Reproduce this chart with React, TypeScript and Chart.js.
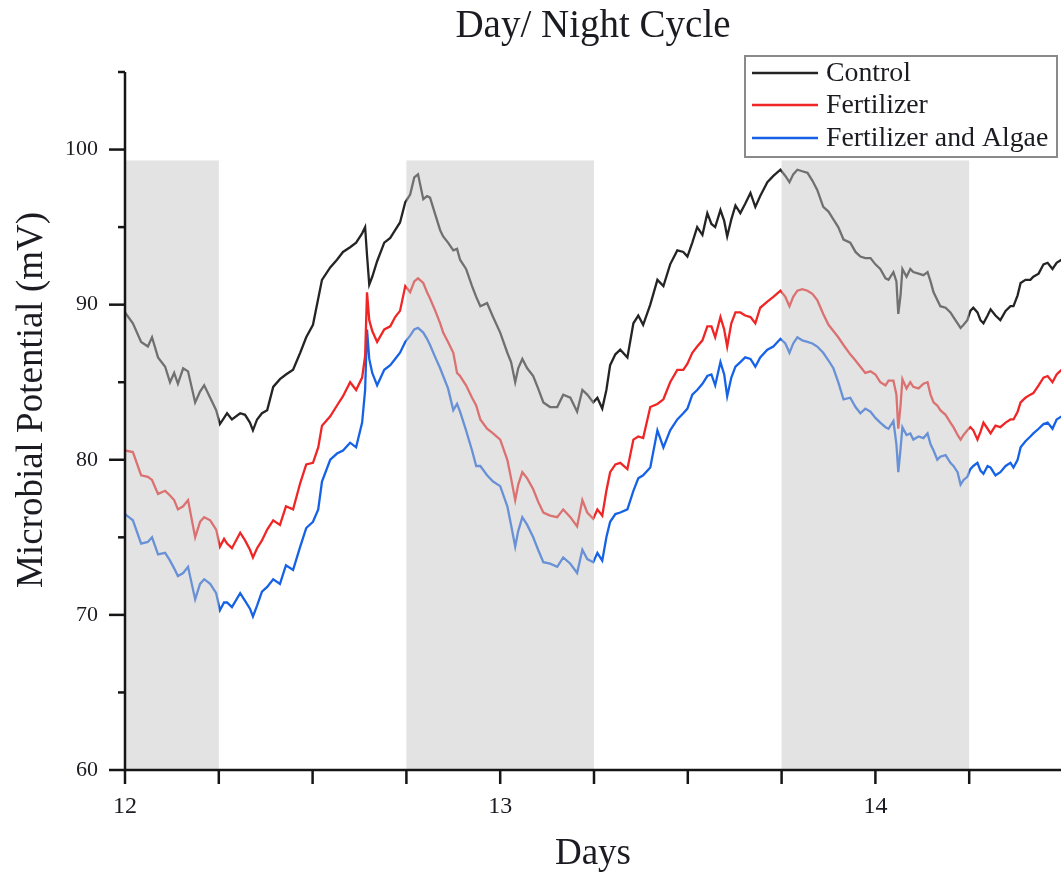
import React, { useEffect, useRef } from "react";
import { Chart, registerables } from "chart.js";

Chart.register(...registerables);

// ---- data ----
const days = [
  12.000, 12.021, 12.043, 12.061, 12.072, 12.088, 12.107, 12.120, 12.131, 12.141,
  12.155, 12.168, 12.187, 12.200, 12.211, 12.227, 12.243, 12.253, 12.264, 12.272,
  12.285, 12.307, 12.320, 12.333, 12.341, 12.352, 12.365, 12.379, 12.395, 12.413,
  12.429, 12.448, 12.467, 12.483, 12.501, 12.515, 12.525, 12.547, 12.565, 12.581,
  12.600, 12.616, 12.632, 12.640, 12.645, 12.651, 12.659, 12.672, 12.691, 12.707,
  12.720, 12.733, 12.747, 12.760, 12.771, 12.781, 12.795, 12.805, 12.813, 12.827,
  12.840, 12.848, 12.861, 12.875, 12.885, 12.893, 12.909, 12.925, 12.936, 12.947,
  12.965, 12.981, 13.000, 13.019, 13.029, 13.040, 13.048, 13.059, 13.072, 13.088,
  13.101, 13.115, 13.133, 13.152, 13.168, 13.187, 13.205, 13.219, 13.232, 13.248,
  13.259, 13.272, 13.283, 13.293, 13.307, 13.320, 13.339, 13.355, 13.368, 13.381,
  13.400, 13.419, 13.435, 13.453, 13.472, 13.488, 13.499, 13.512, 13.525, 13.539,
  13.552, 13.563, 13.573, 13.587, 13.597, 13.605, 13.616, 13.627, 13.640, 13.653,
  13.667, 13.680, 13.693, 13.712, 13.728, 13.747, 13.760, 13.771, 13.781, 13.792,
  13.805, 13.819, 13.832, 13.845, 13.861, 13.875, 13.888, 13.901, 13.915, 13.933,
  13.947, 13.960, 13.973, 13.987, 14.000, 14.013, 14.027, 14.035, 14.048, 14.056,
  14.061, 14.067, 14.072, 14.083, 14.093, 14.101, 14.115, 14.128, 14.139, 14.147,
  14.155, 14.165, 14.173, 14.187, 14.200, 14.208, 14.219, 14.227, 14.235, 14.245,
  14.253, 14.261, 14.272, 14.280, 14.288, 14.299, 14.307, 14.320, 14.333, 14.347,
  14.360, 14.368, 14.379, 14.387, 14.400, 14.413, 14.421, 14.435, 14.448, 14.459,
  14.472, 14.483, 14.496,
];

const controlMv = [
  89.5, 88.8, 87.6, 87.3, 87.9, 86.6, 86.0, 85.0, 85.6, 84.9,
  85.9, 85.7, 83.7, 84.4, 84.8, 84.0, 83.2, 82.3, 82.7, 83.0,
  82.6, 83.0, 82.9, 82.4, 81.9, 82.6, 83.0, 83.2, 84.7, 85.2,
  85.5, 85.8, 86.9, 87.9, 88.7, 90.4, 91.6, 92.4, 92.9, 93.4,
  93.7, 94.0, 94.6, 95.0, 93.2, 91.3, 91.8, 92.8, 94.0, 94.3,
  94.8, 95.3, 96.6, 97.1, 98.2, 98.4, 96.8, 97.0, 96.9, 95.8,
  94.8, 94.4, 94.0, 93.5, 93.6, 92.9, 92.3, 91.2, 90.5, 89.9,
  90.1, 89.2, 88.2, 86.9, 86.3, 85.0, 85.9, 86.5, 85.9, 85.4,
  84.6, 83.7, 83.4, 83.4, 84.2, 84.0, 83.1, 84.5, 84.2, 83.7,
  84.0, 83.3, 84.5, 86.1, 86.8, 87.1, 86.6, 88.8, 89.3, 88.7,
  90.0, 91.6, 91.2, 92.6, 93.5, 93.4, 93.1, 94.0, 95.0, 94.5,
  95.9, 95.2, 95.0, 96.1, 95.4, 94.4, 95.5, 96.4, 95.9, 96.5,
  97.2, 96.3, 97.0, 97.9, 98.3, 98.7, 98.3, 97.9, 98.4, 98.7,
  98.6, 98.5, 98.0, 97.4, 96.3, 96.0, 95.5, 95.0, 94.2, 94.0,
  93.4, 93.1, 93.0, 93.0, 92.6, 92.3, 91.7, 91.6, 92.1, 91.5,
  89.4, 90.6, 92.3, 91.8, 92.3, 92.1, 92.0, 91.9, 92.1, 91.5,
  90.8, 90.3, 89.9, 89.8, 89.5, 89.2, 88.8, 88.5, 88.7, 89.0,
  89.6, 89.8, 89.5, 89.0, 88.8, 89.3, 89.7, 89.3, 89.0, 89.6,
  89.9, 89.9, 90.6, 91.4, 91.6, 91.6, 91.8, 92.0, 92.6, 92.7,
  92.3, 92.7, 92.9,
];

const fertilizerMv = [
  80.6, 80.5, 79.0, 78.9, 78.7, 77.8, 78.0, 77.7, 77.4, 76.8,
  77.0, 77.4, 75.0, 76.0, 76.3, 76.1, 75.5, 74.4, 74.9, 74.6,
  74.3, 75.3, 74.8, 74.2, 73.7, 74.3, 74.8, 75.5, 76.1, 75.8,
  77.0, 76.8, 78.5, 79.7, 79.8, 80.8, 82.2, 82.8, 83.5, 84.1,
  85.0, 84.5, 85.3, 86.7, 90.8, 89.0, 88.3, 87.6, 88.4, 88.6,
  89.2, 89.6, 91.2, 90.8, 91.5, 91.7, 91.4, 90.8, 90.4, 89.6,
  88.8, 88.2, 87.6, 86.9, 85.6, 85.4, 84.8, 84.0, 83.5, 82.6,
  82.0, 81.7, 81.3, 80.0, 78.8, 77.4, 78.4, 79.2, 78.8, 78.1,
  77.3, 76.6, 76.4, 76.3, 76.8, 76.3, 75.7, 77.4, 76.6, 76.2,
  76.8, 76.4, 78.0, 79.2, 79.7, 79.8, 79.4, 81.3, 81.5, 81.4,
  83.4, 83.6, 83.9, 85.0, 85.8, 85.8, 86.2, 86.9, 87.3, 87.7,
  88.6, 88.6, 87.9, 89.2, 88.4, 87.3, 88.8, 89.5, 89.5, 89.3,
  89.2, 88.8, 89.8, 90.2, 90.5, 90.9, 90.5, 89.9, 90.5, 90.9,
  91.0, 90.9, 90.7, 90.3, 89.4, 88.7, 88.3, 87.9, 87.4, 86.8,
  86.4, 86.0, 85.6, 85.7, 85.5, 85.0, 84.8, 85.1, 85.1, 84.2,
  82.0, 83.5, 85.2, 84.6, 85.0, 84.7, 84.6, 84.9, 85.0, 84.2,
  83.7, 83.5, 83.2, 82.9, 82.4, 82.1, 81.6, 81.3, 81.6, 81.9,
  82.1, 81.9, 81.3, 81.8, 82.4, 82.0, 81.7, 82.2, 82.1, 82.4,
  82.6, 82.6, 83.1, 83.7, 84.0, 84.2, 84.3, 84.8, 85.3, 85.4,
  85.0, 85.5, 85.8,
];

const algaeMv = [
  76.5, 76.1, 74.6, 74.7, 75.0, 73.9, 74.0, 73.5, 73.0, 72.5,
  72.7, 73.1, 71.0, 72.0, 72.3, 72.0, 71.4, 70.3, 70.8, 70.8,
  70.5, 71.4, 70.9, 70.4, 69.9, 70.6, 71.5, 71.8, 72.3, 72.0,
  73.2, 72.9, 74.4, 75.6, 76.0, 76.8, 78.6, 80.0, 80.4, 80.6,
  81.1, 80.8, 82.4, 84.5, 88.4, 86.5, 85.6, 84.8, 85.8, 86.1,
  86.5, 86.9, 87.6, 88.0, 88.4, 88.5, 88.2, 87.8, 87.4, 86.6,
  85.9, 85.4, 84.6, 83.2, 83.6, 83.1, 81.9, 80.6, 79.6, 79.6,
  79.0, 78.6, 78.3, 77.0, 75.8, 74.4, 75.4, 76.3, 75.8, 75.0,
  74.2, 73.4, 73.3, 73.1, 73.7, 73.3, 72.7, 74.2, 73.6, 73.4,
  74.0, 73.5, 75.0, 76.0, 76.5, 76.6, 76.8, 78.0, 78.8, 79.0,
  79.5, 81.9, 80.8, 81.9, 82.6, 83.0, 83.3, 84.2, 84.5, 84.9,
  85.4, 85.5, 84.8, 86.3, 85.5, 84.1, 85.3, 86.0, 86.3, 86.6,
  86.5, 86.0, 86.6, 87.1, 87.3, 87.8, 87.5, 86.9, 87.5, 87.9,
  87.7, 87.6, 87.5, 87.3, 86.9, 86.4, 85.9, 85.0, 83.9, 84.0,
  83.4, 83.0, 83.3, 83.1, 82.7, 82.4, 82.1, 82.0, 82.5, 81.0,
  79.2, 80.7, 82.1, 81.6, 81.7, 81.3, 81.5, 81.4, 81.7, 81.0,
  80.6, 80.0, 80.2, 80.3, 79.8, 79.6, 79.2, 78.4, 78.7, 78.9,
  79.4, 79.6, 79.8, 79.3, 79.1, 79.6, 79.5, 79.0, 79.2, 79.6,
  79.8, 79.5, 80.0, 80.8, 81.2, 81.5, 81.7, 82.0, 82.3, 82.4,
  82.0, 82.6, 82.8,
];

const seriesLabels = ["Control", "Fertilizer", "Fertilizer and Algae"];
const seriesColors = ["#242424", "#f02626", "#1662e6"];
const nightStarts = [12.0, 12.75, 13.75];
const nightEnds = [12.25, 13.25, 14.25];
const nightTop = 99.3;
const xMin = 12;
const xMax = 14.5;
const yMin = 60;
const yMax = 105;
const chartTitle = "Day/ Night Cycle";
const xTitle = "Days";
const yTitle = "Microbial Potential (mV)";

const SERIF = "'Liberation Serif', 'Times New Roman', serif";
const INK = "#1b1b22";
const X_LABEL_PAD = 22;

const overlayPlugin = {
  id: "nightBands",
  afterDatasetsDraw(chart: any) {
    const { ctx, chartArea, scales } = chart;
    const xs = scales.x;
    const ys = scales.y;
    ctx.save();
    ctx.beginPath();
    ctx.rect(chartArea.left, chartArea.top, chartArea.right - chartArea.left, chartArea.bottom - chartArea.top);
    ctx.clip();
    ctx.fillStyle = "rgba(197,197,197,0.48)";
    for (let i = 0; i < nightStarts.length; i++) {
      const x0 = xs.getPixelForValue(nightStarts[i]);
      const x1 = xs.getPixelForValue(nightEnds[i]);
      const y0 = ys.getPixelForValue(nightTop);
      const y1 = ys.getPixelForValue(yMin);
      ctx.fillRect(x0, y0, x1 - x0, y1 - y0);
    }
    ctx.restore();
  },
};

const decorPlugin = {
  id: "decor",
  afterDraw(chart: any) {
    const { ctx, chartArea, scales } = chart;
    const xs = scales.x;
    const ys = scales.y;
    const L = chartArea.left;
    const B = chartArea.bottom;
    ctx.save();
    ctx.strokeStyle = "#151515";
    ctx.lineWidth = 2.5;
    ctx.lineCap = "butt";
    // axes
    ctx.beginPath();
    ctx.moveTo(L, ys.getPixelForValue(yMax));
    ctx.lineTo(L, B);
    ctx.lineTo(chart.width, B);
    ctx.stroke();
    // y ticks
    ys.ticks.forEach((t: any) => {
      const y = ys.getPixelForValue(t.value);
      const major = Math.abs(t.value % 10) < 1e-6;
      ctx.beginPath();
      ctx.moveTo(L, y);
      ctx.lineTo(L - (major ? 16 : 7), y);
      ctx.stroke();
    });
    // x ticks
    xs.ticks.forEach((t: any) => {
      const x = xs.getPixelForValue(t.value);
      ctx.beginPath();
      ctx.moveTo(x, B);
      ctx.lineTo(x, B + 14);
      ctx.stroke();
    });

    // titles
    ctx.fillStyle = INK;
    ctx.textAlign = "center";
    ctx.textBaseline = "alphabetic";
    ctx.font = `39px ${SERIF}`;
    ctx.fillText(chartTitle, 593, 37);
    ctx.font = `37px ${SERIF}`;
    ctx.fillText(xTitle, 593, 864);
    ctx.save();
    ctx.translate(42, 400);
    ctx.rotate(-Math.PI / 2);
    ctx.fillText(yTitle, 0, 0);
    ctx.restore();

    // legend
    const bx = 745, by = 56, bw = 312, bh = 101;
    ctx.fillStyle = "#ffffff";
    ctx.fillRect(bx, by, bw, bh);
    ctx.strokeStyle = "#8a8a8a";
    ctx.lineWidth = 2;
    ctx.strokeRect(bx, by, bw, bh);
    const rows = [73, 105, 138];
    ctx.font = `27.8px ${SERIF}`;
    ctx.textAlign = "left";
    ctx.textBaseline = "middle";
    for (let i = 0; i < seriesLabels.length; i++) {
      ctx.strokeStyle = seriesColors[i];
      ctx.lineWidth = 2.5;
      ctx.beginPath();
      ctx.moveTo(752, rows[i]);
      ctx.lineTo(818, rows[i]);
      ctx.stroke();
      ctx.fillStyle = INK;
      ctx.fillText(seriesLabels[i], 826, rows[i] + 1);
    }
    ctx.restore();
  },
};

export default function App() {
  const ref = useRef<HTMLCanvasElement | null>(null);
  useEffect(() => {
    if (!ref.current) return;
    const seriesValues = [controlMv, fertilizerMv, algaeMv];
    const chart = new Chart(ref.current, {
      type: "line",
      data: {
        datasets: seriesValues.map((vals, i) => ({
          label: seriesLabels[i],
          data: days.map((d, j) => ({ x: d, y: vals[j] })),
          borderColor: seriesColors[i],
          borderWidth: 2.3,
          pointRadius: 0,
          tension: 0,
          fill: false,
        })),
      },
      options: {
        responsive: false,
        animation: false,
        layout: { padding: { top: 72, left: 0, right: 0, bottom: 0 } },
        plugins: {
          legend: { display: false },
          title: { display: false },
          tooltip: { enabled: false },
        },
        scales: {
          x: {
            type: "linear",
            min: xMin,
            max: xMax,
            afterFit: (s: any) => {
              s.height = 103;
            },
            grid: { display: false, drawTicks: false },
            border: { display: false },
            ticks: {
              stepSize: 0.25,
              autoSkip: false,
              maxRotation: 0,
              padding: X_LABEL_PAD,
              color: INK,
              font: { family: SERIF, size: 24 },
              callback: (v: any) => (Math.abs(v - Math.round(v)) < 1e-6 ? String(Math.round(v)) : ""),
            },
          },
          y: {
            type: "linear",
            min: yMin,
            max: yMax,
            afterFit: (s: any) => {
              s.width = 125;
            },
            grid: { display: false, drawTicks: false },
            border: { display: false },
            ticks: {
              stepSize: 5,
              padding: 27,
              color: INK,
              font: { family: SERIF, size: 22 },
              callback: (v: any) => (Math.abs(v % 10) < 1e-6 ? String(v) : ""),
            },
          },
        },
      },
      plugins: [overlayPlugin, decorPlugin],
    });
    return () => chart.destroy();
  }, []);

  return (
    <div
      style={{
        position: "absolute",
        left: 0,
        top: 0,
        width: 1061,
        height: 873,
        overflow: "hidden",
        background: "#ffffff",
      }}
    >
      <canvas ref={ref} width={1063 + X_LABEL_PAD} height={873} style={{ display: "block" }} />
    </div>
  );
}
